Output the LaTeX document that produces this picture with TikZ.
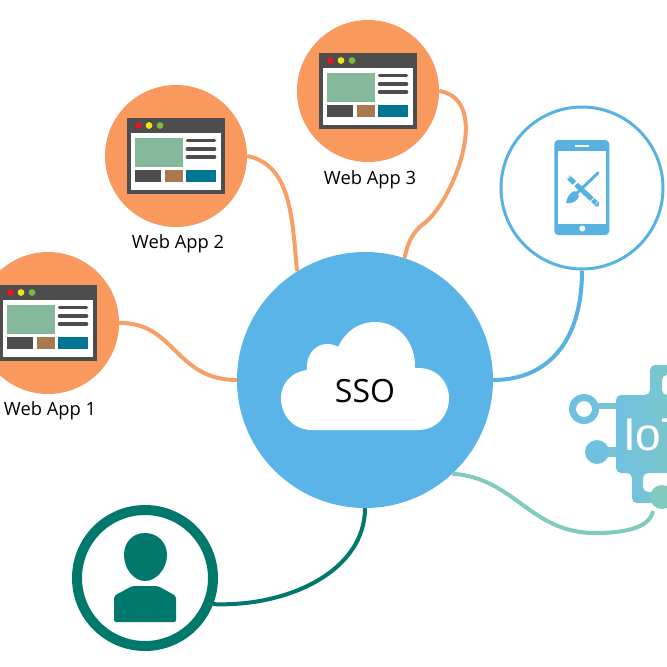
\documentclass[tikz,border=0pt]{standalone}
\usepackage{fontspec}
\setmainfont{Open Sans}
\newfontfamily\iotfont{Liberation Sans}
\usepackage{tikz}

\definecolor{appfill}{RGB}{250,153,94}
\definecolor{appline}{RGB}{246,160,104}
\definecolor{ssoblue}{RGB}{90,180,232}
\definecolor{phoneblue}{RGB}{88,178,225}
\definecolor{userteal}{RGB}{0,120,108}
\definecolor{wingrey}{RGB}{77,77,77}
\definecolor{wingreen}{RGB}{134,184,155}
\definecolor{winbrown}{RGB}{168,122,80}
\definecolor{winteal}{RGB}{0,118,146}
\definecolor{dotred}{RGB}{230,20,35}
\definecolor{dotyellow}{RGB}{245,225,20}
\definecolor{dotgreen}{RGB}{125,185,60}
\definecolor{iotblue}{RGB}{112,192,226}
\definecolor{iotteal}{RGB}{128,202,190}
\definecolor{iotmid}{RGB}{120,197,208}

\tikzset{
  appnode/.style={circle, fill=appfill, minimum size=142pt, inner sep=0pt},
  applabel/.style={font=\fontsize{18.3}{20}\selectfont, inner sep=0pt},
  applink/.style={draw=appline, line width=4pt},
  iotpart/.style={left color=iotblue, right color=iotteal}
}

\begin{document}
\begin{tikzpicture}[x=1pt,y=-1pt]
\clip (0,0) rectangle (667,667);

%% web apps
\foreach \n/\cx/\cy/\lx/\ly in {1/48/323/50/411, 2/176/156/178/243.5, 3/368/91/370/180}{
  \node[appnode] (app\n) at (\cx,\cy) {};
  \node[applabel] (label\n) at (\lx,\ly) {Web App \n};
  \begin{scope}[shift={(\cx,\cy)}]
    \fill[wingrey] (-49,-38) rectangle (49,38);
    \fill[white] (-45,-23) rectangle (45,34);
    \fill[dotred] (-37.5,-30.5) circle (3.4);
    \fill[dotyellow] (-27,-30.5) circle (3.4);
    \fill[dotgreen] (-16,-30.5) circle (3.4);
    \fill[wingreen] (-41,-18) rectangle (7,10.5);
    \foreach \y in {-15.5,-7,1}
      \draw[wingrey, line width=3.6pt, line cap=round] (11.5,\y) -- (38.5,\y);
    \fill[wingrey] (-41,14) rectangle (-15,25.5);
    \fill[winbrown] (-11,14) rectangle (7,25.5);
    \fill[winteal] (10,14) rectangle (40,25.5);
  \end{scope}
}

%% center
\node[circle, fill=ssoblue, minimum size=256pt, inner sep=0pt] (sso) at (365,380) {};
\fill[white] (312,430) .. controls (294,430) and (281,416) .. (281,398)
  .. controls (281,383) and (292,372) .. (306.7,370)
  .. controls (306,355) and (315,344) .. (327,344)
  .. controls (331,344) and (335,345) .. (338.3,346.7)
  .. controls (345,332) and (358,322) .. (375,322)
  .. controls (399,322) and (416,343) .. (415,368.3)
  .. controls (435,366) and (449,381) .. (449,398)
  .. controls (449,416) and (436,430) .. (418,430) -- cycle;
\node[font=\fontsize{32}{34}\selectfont, inner sep=0pt] (ssotext) at (365,391) {SSO};

%% phone
\node[circle, draw=phoneblue, fill=white, line width=3pt, minimum size=162pt, inner sep=0pt] (mobile) at (582,188) {};
\fill[phoneblue, rounded corners=4pt] (554.3,140) rectangle (609.3,235);
\fill[white] (558,150.7) rectangle (605.7,224);
\fill[white] (575,144.5) rectangle (589,146.5);
\fill[white] (582.3,228.5) circle (3);
\draw[phoneblue, line width=5pt] (568,177) -- (596,203);
\fill[phoneblue] (594,206) -- (599,201) -- (598.5,206.5) -- cycle;
\draw[white, line width=1pt] (566,180) -- (572,174);
\draw[white, line width=1pt] (590,202) -- (596,196);
\draw[white, line width=2pt] (578,181) -- (573,186);
\draw[phoneblue, line width=3pt, line cap=round] (598,173) -- (576,194);
\fill[phoneblue] (566,203) .. controls (567,196) and (571,192) .. (575,191) -- (579,196)
  .. controls (578,201) and (572,204) .. (566,203) -- cycle;

%% user
\node[circle, draw=userteal, fill=white, line width=10pt, minimum size=136pt, inner sep=0pt] (user) at (145,578) {};
\fill[userteal] (145,533) .. controls (132,533) and (124,543) .. (124,555)
  .. controls (124,569) and (134,581) .. (145,581) .. controls (156,581) and (167,569) .. (167,555)
  .. controls (167,543) and (158,533) .. (145,533) -- cycle;
\fill[userteal, rounded corners=2pt] (114,622) -- (114,596) -- (132,586) -- (158,586) -- (176,596) -- (176,622) -- cycle;

%% iot
\coordinate (iotend) at (653,511);
\fill[iotmid] (598,403) rectangle (618,409);
\fill[iotmid] (605,447) rectangle (618,457);
\fill[iotblue, even odd rule] (584,409) circle (15) (584,409) circle (8);
\fill[iotblue] (597,452) circle (12);
\shade[iotpart, rounded corners=5pt]
  (616,395) -- (650,395) -- (650,365) -- (700,365) -- (700,375) -- (662,375) -- (662,395)
  -- (700,395) -- (700,473) -- (643,473) -- (643,492) -- (700,492) -- (700,503) -- (632,503) -- (632,473) -- (616,473) -- cycle;
\fill[iotteal] (662,497) circle (12);
\node[text=white, font=\iotfont\fontsize{46}{48}\selectfont, inner sep=0pt, anchor=base west] (iottext) at (623,450) {IoT};

%% links
\draw[applink] (app1.east) .. controls (175,322) and (175,380) .. (sso.west);
\draw[applink] (app2.east) .. controls (292,165) and (292,220) .. (sso.122);
\draw[applink] (app3.east) .. controls (494,100) and (452,205) .. (422,225) .. controls (412,233) and (407,245) .. (sso.72);
\draw[phoneblue, line width=4pt] (mobile.south) .. controls (582,345) and (545,380) .. (sso.east);
\draw[userteal, line width=4pt] (sso.south) .. controls (365,570) and (290,607) .. (user.-21);
\draw[iotteal, line width=4pt] (sso.-47) .. controls (515,478) and (530,533) .. (595,533) .. controls (630,533) and (650,526) .. (iotend);

\end{tikzpicture}
\end{document}
